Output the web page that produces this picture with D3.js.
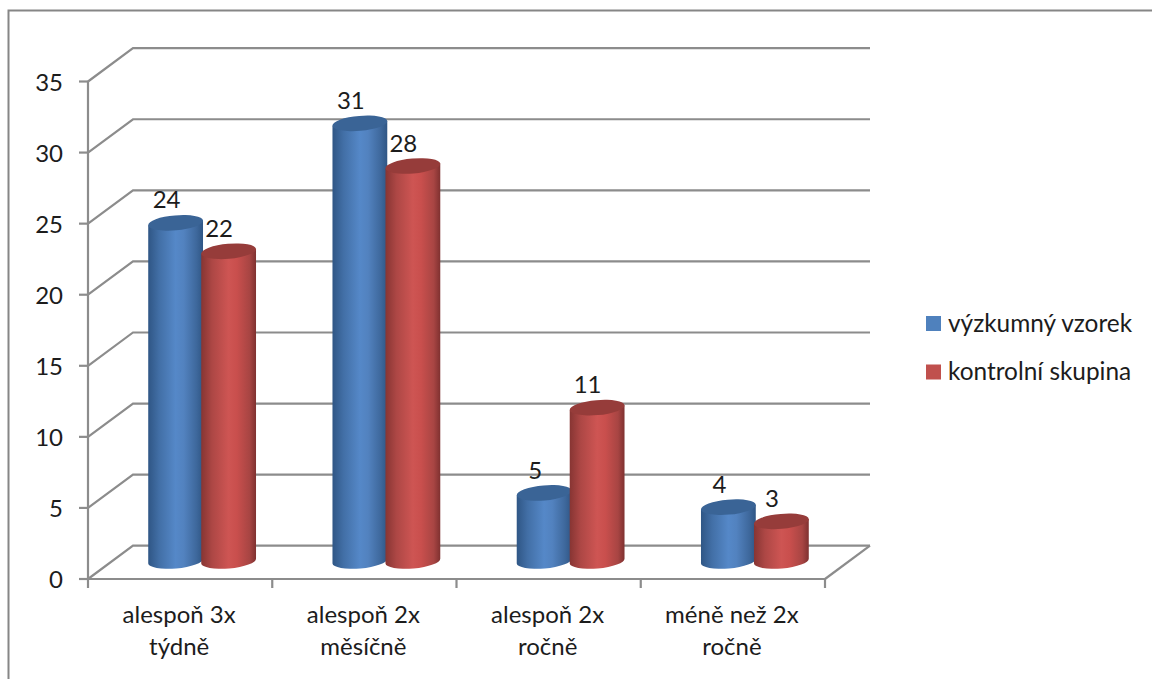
<!DOCTYPE html>
<html>
<head>
<meta charset="utf-8">
<script src="https://cdn.jsdelivr.net/npm/d3@7"></script>
<style>
  html, body { margin: 0; padding: 0; background: #fff; }
  svg { display: block; }
  text { font-family: Lato, sans-serif; fill: #1c1c1c; }
</style>
</head>
<body>
<svg id="chart" width="1152" height="679"></svg>
<script>
// Survey answers per frequency category
const categories = [
  ["alespoň 3x", "týdně"],
  ["alespoň 2x", "měsíčně"],
  ["alespoň 2x", "ročně"],
  ["méně než 2x", "ročně"]
];
const seriesNames = ["výzkumný vzorek", "kontrolní skupina"];
const researchSample = [24, 31, 5, 4];
const controlGroup = [22, 28, 11, 3];
const yTicks = [0, 5, 10, 15, 20, 25, 30, 35];

const width = 1152, height = 679;
const svg = d3.select("#chart");

// Front plane of the pseudo-3D plot and the shift to its back wall
const x = d3.scaleBand().domain(d3.range(categories.length)).range([88, 825]);
const y = d3.scaleLinear().domain([0, 35]).range([579, 81.5]);
const depth = { dx: 45, dy: -33.3 };
const gridColor = "#8c8c8c";

// Outer chart frame
svg.append("path")
  .attr("d", `M8.5,${height} V10.5 H${width}`)
  .attr("fill", "none").attr("stroke", "#868686").attr("stroke-width", 2);

// Gradients: one cylinder shading per series
const defs = svg.append("defs");
const palettes = [
  { id: "cyl0", stops: ["#2f5685", "#426fa6", "#5588c8", "#5282bf", "#3e689c", "#2f5685"], top: "#3a6496", key: "#4f81bd" },
  { id: "cyl1", stops: ["#873533", "#ad4745", "#ce5553", "#c94f4d", "#a84543", "#7f3130"], top: "#963c3a", key: "#c0504d" }
];
palettes.forEach(p => {
  const g = defs.append("linearGradient").attr("id", p.id)
    .attr("x1", 0).attr("x2", 1).attr("y1", 0).attr("y2", 0);
  [0, 0.2, 0.5, 0.65, 0.88, 1].forEach((o, i) =>
    g.append("stop").attr("offset", o).attr("stop-color", p.stops[i]));
});

// Back wall gridlines with their diagonal links to the front axis
const grid = svg.append("g").attr("fill", "none")
  .attr("stroke", gridColor).attr("stroke-width", 2.2);
yTicks.forEach(t => {
  grid.append("path").attr("d",
    `M${x.range()[0]},${y(t)} L${x.range()[0] + depth.dx},${y(t) + depth.dy} H${x.range()[1] + depth.dx}`);
});
grid.append("path").attr("d",
  `M${x.range()[1]},${y(0)} L${x.range()[1] + depth.dx},${y(0) + depth.dy}`);

// Front axes with outward ticks
const axes = svg.append("g").attr("fill", "none")
  .attr("stroke", gridColor).attr("stroke-width", 2.2);
axes.append("path").attr("d", `M${x.range()[0]},${y(35)} V${y(0)} H${x.range()[1]}`);
yTicks.forEach(t => axes.append("path")
  .attr("d", `M${x.range()[0] - 9},${y(t)} H${x.range()[0]}`));
d3.range(categories.length + 1).forEach(i => {
  const px = x.range()[0] + i * x.bandwidth();
  axes.append("path").attr("d", `M${px},${y(0)} v9`);
});

// Value axis labels
svg.append("g").selectAll("text").data(yTicks).join("text")
  .attr("x", 63).attr("y", d => y(d)).attr("dy", "0.38em")
  .attr("text-anchor", "end").attr("font-size", 24).text(d => d);

// Category labels, two lines each
const catLabels = svg.append("g").attr("text-anchor", "middle").attr("font-size", 24);
categories.forEach((lines, i) => {
  const cx = x(i) + x.bandwidth() / 2 - 1;
  lines.forEach((line, j) => catLabels.append("text")
    .attr("x", cx).attr("y", 623 + j * 32).text(line));
});

// Cylinders sit on the mid-depth plane of the floor
const rx = 27.5, ry = 7.5, tilt = 5 * Math.PI / 180;
const barY = d3.scaleLinear().domain([0, 35]).range([564, 564 - (y(0) - y(35))]);
const offsets = [-4.5, 48.5];
const labelShift = [-9, -9.5];

function drawCylinder(g, cx, v, s) {
  const top = barY(v), bot = barY(0) - 3;
  const ex = rx * Math.cos(tilt), ey = rx * Math.sin(tilt);
  g.append("path")
    .attr("d", `M${cx - ex},${top + ey} L${cx - ex},${bot + ey}
      A${rx},${ry} -5 0 0 ${cx + ex},${bot - ey}
      L${cx + ex},${top - ey} Z`)
    .attr("fill", `url(#${palettes[s].id})`);
  g.append("ellipse")
    .attr("cx", cx).attr("cy", top).attr("rx", rx).attr("ry", ry)
    .attr("transform", `rotate(-5 ${cx} ${top})`)
    .attr("fill", palettes[s].top);
}

const bars = svg.append("g");
const dataLabels = svg.append("g").attr("text-anchor", "middle").attr("font-size", 24);
[researchSample, controlGroup].forEach((values, s) => {
  values.forEach((v, i) => {
    const cx = x(i) + x.bandwidth() / 2 + offsets[s];
    drawCylinder(bars, cx, v, s);
    dataLabels.append("text")
      .attr("x", cx + labelShift[s]).attr("y", barY(v) - 23)
      .attr("dy", "0.36em").text(v);
  });
});

// Legend
const legend = svg.append("g");
seriesNames.forEach((name, s) => {
  const ly = 323.5 + s * 48.5;
  legend.append("rect").attr("x", 926).attr("y", ly - 7.5)
    .attr("width", 15).attr("height", 15).attr("fill", palettes[s].key);
  legend.append("text").attr("x", 948).attr("y", 332 + s * 48)
    .attr("font-size", 24.4).text(name);
});
</script>
</body>
</html>
